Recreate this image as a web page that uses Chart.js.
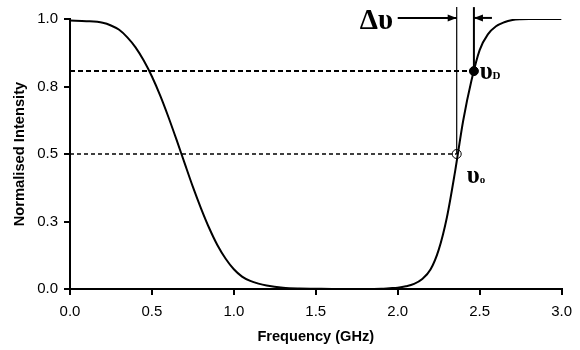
<!DOCTYPE html>
<html>
<head>
<meta charset="utf-8">
<script src="https://cdn.jsdelivr.net/npm/chart.js@4"></script>
<style>
  html, body { margin: 0; padding: 0; background: #fff; }
  #wrap { width: 580px; height: 350px; }
</style>
</head>
<body>
<div id="wrap"><canvas id="filterChart"></canvas></div>
<script>
// transmission curve
const freq = [0, 0.1, 0.2, 0.25, 0.3, 0.35, 0.4, 0.45, 0.5, 0.55,
              0.6, 0.65, 0.7, 0.75, 0.8, 0.85, 0.9, 0.95, 1.0, 1.05,
              1.1, 1.15, 1.2, 1.3, 1.4, 1.5, 1.6, 1.7, 1.8, 1.9,
              1.95, 2.0, 2.05, 2.1, 2.15, 2.2, 2.25, 2.3, 2.35, 2.4,
              2.45, 2.5, 2.55, 2.6, 2.65, 2.7, 2.75, 2.8, 2.9, 3.0];
const intensity = [0.994, 0.992, 0.986, 0.976, 0.96, 0.932, 0.895, 0.846, 0.787, 0.717,
                   0.638, 0.553, 0.465, 0.378, 0.298, 0.225, 0.162, 0.112, 0.073, 0.046,
                   0.03, 0.02, 0.013, 0.005, 0.002, 0.001, 0, 0, 0, 0.001,
                   0.003, 0.005, 0.01, 0.019, 0.037, 0.072, 0.145, 0.265, 0.435, 0.625,
                   0.772, 0.885, 0.943, 0.973, 0.988, 0.996, 0.999, 1.0, 1.0, 1.0];

// marked points: nu_o (open) and nu_D (filled)
const markX = [2.36, 2.465];
const markY = [0.5, 0.807];
const guideTop = 1.044;

// delta-nu arrows
const arrowY = 1.004;
const arrowLeft = [2.0, 2.36];
const arrowRight = [2.575, 2.465];

// text labels
const labelText = ['\u0394\u03c5', '\u03c5', '\u03c5'];
const labelSub = ['', 'D', 'o'];
const labelX = [1.87, 2.5, 2.422];
const labelY = [0.99, 0.8, 0.415];

const xTicks = [0, 0.5, 1.0, 1.5, 2.0, 2.5, 3.0];

const pts = (xs, ys) => xs.map((v, i) => ({ x: v, y: ys[i] }));
const serif = '"Liberation Serif", "DejaVu Serif", serif';
const sans = '"Liberation Sans", Arial, sans-serif';

const notes = {
    id: 'notes',
    afterDatasetsDraw(chart) {
        const ctx = chart.ctx;
        const x = chart.scales.x, y = chart.scales.y;
        ctx.save();
        ctx.fillStyle = '#000';

        // arrowheads at the inner ends of the arrows
        [arrowLeft, arrowRight].forEach(a => {
            const tx = x.getPixelForValue(a[1]);
            const sx = x.getPixelForValue(a[0]);
            const ty = y.getPixelForValue(arrowY);
            const dir = tx > sx ? 1 : -1;
            ctx.beginPath();
            ctx.moveTo(tx, ty);
            ctx.lineTo(tx - dir * 9, ty - 3.5);
            ctx.lineTo(tx - dir * 9, ty + 3.5);
            ctx.closePath();
            ctx.fill();
        });

        // labels
        ctx.textBaseline = 'middle';
        labelText.forEach((t, i) => {
            const px = x.getPixelForValue(labelX[i]);
            const py = y.getPixelForValue(labelY[i]);
            if (i === 0) {
                ctx.font = 'bold 29px ' + serif;
                ctx.textAlign = 'center';
                ctx.fillText(t, px, py);
            } else {
                ctx.font = 'bold 25px ' + serif;
                ctx.textAlign = 'left';
                ctx.fillText(t, px, py);
                const w = ctx.measureText(t).width;
                ctx.font = 'bold 11px ' + serif;
                ctx.fillText(labelSub[i], px + w, py + 3);
            }
        });
        ctx.restore();
    }
};

const ctx = document.getElementById('filterChart').getContext('2d');
new Chart(ctx, {
    type: 'line',
    data: {
        datasets: [
            {
                data: pts(freq, intensity),
                borderColor: '#000', borderWidth: 2,
                pointRadius: 0, cubicInterpolationMode: 'monotone'
            },
            {
                data: pts([0, markX[1]], [markY[1], markY[1]]),
                borderColor: '#000', borderWidth: 2, borderDash: [5, 3],
                pointRadius: 0
            },
            {
                data: pts([0, markX[0]], [markY[0], markY[0]]),
                borderColor: '#000', borderWidth: 1.3, borderDash: [4, 3],
                pointRadius: 0
            },
            {
                data: pts([markX[0], markX[0]], [markY[0], guideTop]),
                borderColor: '#000', borderWidth: 1.2, pointRadius: 0, clip: false
            },
            {
                data: pts([markX[1], markX[1]], [markY[1], guideTop]),
                borderColor: '#000', borderWidth: 2, pointRadius: 0, clip: false
            },
            {
                data: pts(arrowLeft, [arrowY, arrowY]),
                borderColor: '#000', borderWidth: 2, pointRadius: 0, clip: false
            },
            {
                data: pts(arrowRight, [arrowY, arrowY]),
                borderColor: '#000', borderWidth: 2, pointRadius: 0, clip: false
            },
            {
                data: pts([markX[0]], [markY[0]]),
                showLine: false, pointRadius: 4.5, pointBorderWidth: 1,
                pointBorderColor: '#000', pointBackgroundColor: 'rgba(0,0,0,0)'
            },
            {
                data: pts([markX[1]], [markY[1]]),
                showLine: false, pointRadius: 4.5, pointBorderWidth: 1,
                pointBorderColor: '#000', pointBackgroundColor: '#000'
            }
        ]
    },
    options: {
        responsive: true,
        maintainAspectRatio: false,
        animation: false,
        layout: { padding: { top: 19, right: 13, left: 0, bottom: 0 } },
        plugins: { legend: { display: false }, tooltip: { enabled: false } },
        scales: {
            x: {
                type: 'linear', min: 0, max: 3,
                afterFit: s => { s.height = 61; },
                afterBuildTicks: s => { s.ticks = xTicks.map(v => ({ value: v })); },
                border: { color: '#000', width: 2 },
                grid: { drawOnChartArea: false, drawTicks: true, tickLength: 6, color: '#000', lineWidth: 2 },
                ticks: {
                    color: '#000', padding: 8,
                    font: { family: sans, size: 15 },
                    callback: v => v.toFixed(1)
                },
                title: {
                    display: true, text: 'Frequency (GHz)', color: '#000',
                    font: { family: sans, size: 14.6, weight: 'bold' },
                    padding: { top: 2, bottom: 4 }
                }
            },
            y: {
                min: 0, max: 1,
                afterFit: s => { s.width = 70; },
                border: { color: '#000', width: 2 },
                grid: { drawOnChartArea: false, drawTicks: true, tickLength: 6, color: '#000', lineWidth: 2 },
                ticks: {
                    stepSize: 0.25, color: '#000', padding: 6,
                    font: { family: sans, size: 15 },
                    callback: v => v.toFixed(1)
                },
                title: {
                    display: true, text: 'Normalised Intensity', color: '#000',
                    font: { family: sans, size: 14.7, weight: 'bold' },
                    padding: { top: 11, bottom: 0 }
                }
            }
        }
    },
    plugins: [notes]
});
</script>
</body>
</html>
